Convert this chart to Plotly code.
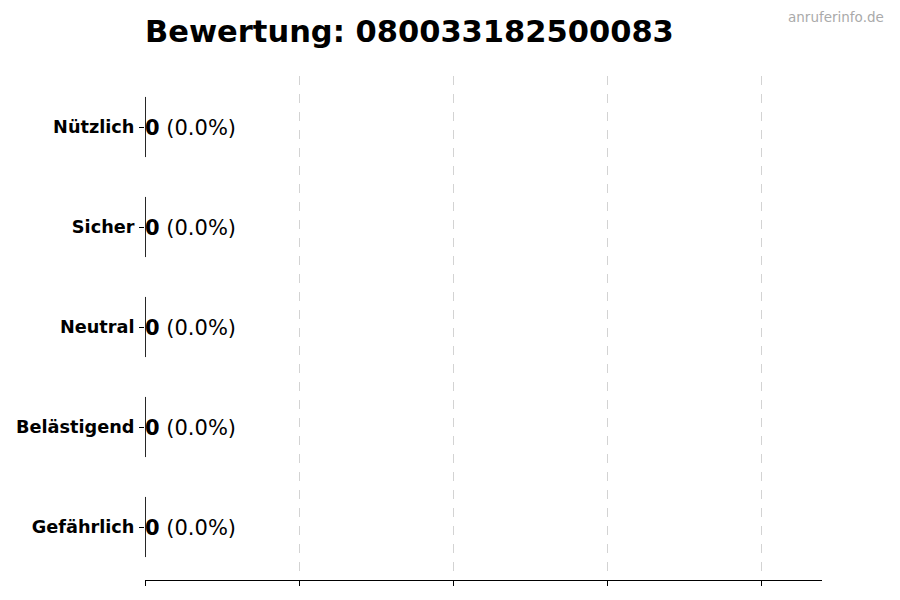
import plotly.graph_objects as go

# Kategorien von unten nach oben (Plotly setzt die erste Kategorie unten)
categories = ["Gefährlich", "Belästigend", "Neutral", "Sicher", "Nützlich"]
counts = [0, 0, 0, 0, 0]
percents = [0.0, 0.0, 0.0, 0.0, 0.0]
x_ticks = [0, 1, 2, 3, 4]

phone = "080033182500083"
font_family = "DejaVu Sans"

fig = go.Figure()

# Balken (alle 0 -> nur die Kante sichtbar)
fig.add_trace(go.Bar(
    x=counts,
    y=categories,
    orientation="h",
    width=0.6,
    marker=dict(color="#4c72b0", line=dict(color="black", width=1)),
    hoverinfo="skip",
    showlegend=False,
))

# Kantenlinie der leeren Balken
fig.add_trace(go.Scatter(
    x=counts,
    y=categories,
    mode="markers",
    marker=dict(symbol="line-ns", size=43, line=dict(color="#111111", width=1)),
    hoverinfo="skip",
    showlegend=False,
))

for cat, c, p in zip(categories, counts, percents):
    fig.add_annotation(
        x=c, y=cat,
        text=f"<b>{c}</b> ({p:.1f}%)",
        showarrow=False,
        xanchor="left", yanchor="middle",
        xshift=-2, yshift=-1,
        font=dict(family=font_family, size=21, color="black"),
    )

# Wasserzeichen oben rechts
fig.add_annotation(
    x=1.0, y=1.0, xref="paper", yref="paper",
    text="anruferinfo.de", showarrow=False,
    xanchor="right", yanchor="middle",
    yshift=59, xshift=64,
    font=dict(family=font_family, size=13.5, color="#aaaaaa"),
)

fig.update_layout(
    width=900, height=600,
    margin=dict(l=145, r=78, t=76, b=20),
    plot_bgcolor="white", paper_bgcolor="white",
    font=dict(family=font_family, color="black"),
    title=dict(
        text=f"<b>Bewertung: {phone}</b>",
        x=145 / 900, xanchor="left",
        y=1 - 31 / 600, yanchor="middle",
        font=dict(family=font_family, size=30.5, color="black"),
    ),
    bargap=0.4,
)

fig.update_xaxes(
    range=[0, 4.396],
    tickvals=x_ticks,
    ticktext=["" for _ in x_ticks],
    ticks="outside", ticklen=5, tickcolor="black",
    showline=True, linecolor="black", linewidth=1,
    showgrid=True, gridcolor="#d3d3d3", griddash="dash", gridwidth=1,
    zeroline=False,
)

fig.update_yaxes(
    categoryorder="array", categoryarray=categories,
    range=[-0.53, 4.51],
    ticks="outside", ticklen=5, tickcolor="black",
    showline=False, showgrid=False, zeroline=False,
    tickfont=dict(family=font_family, size=17.7, color="black"),
    ticklabelstandoff=1,
    tickvals=categories,
    ticktext=[f"<b>{c}</b>" for c in categories],
)

fig.write_html(
    "out.html",
    config={"displayModeBar": False},
    post_script="document.body.style.margin='0';",
)
